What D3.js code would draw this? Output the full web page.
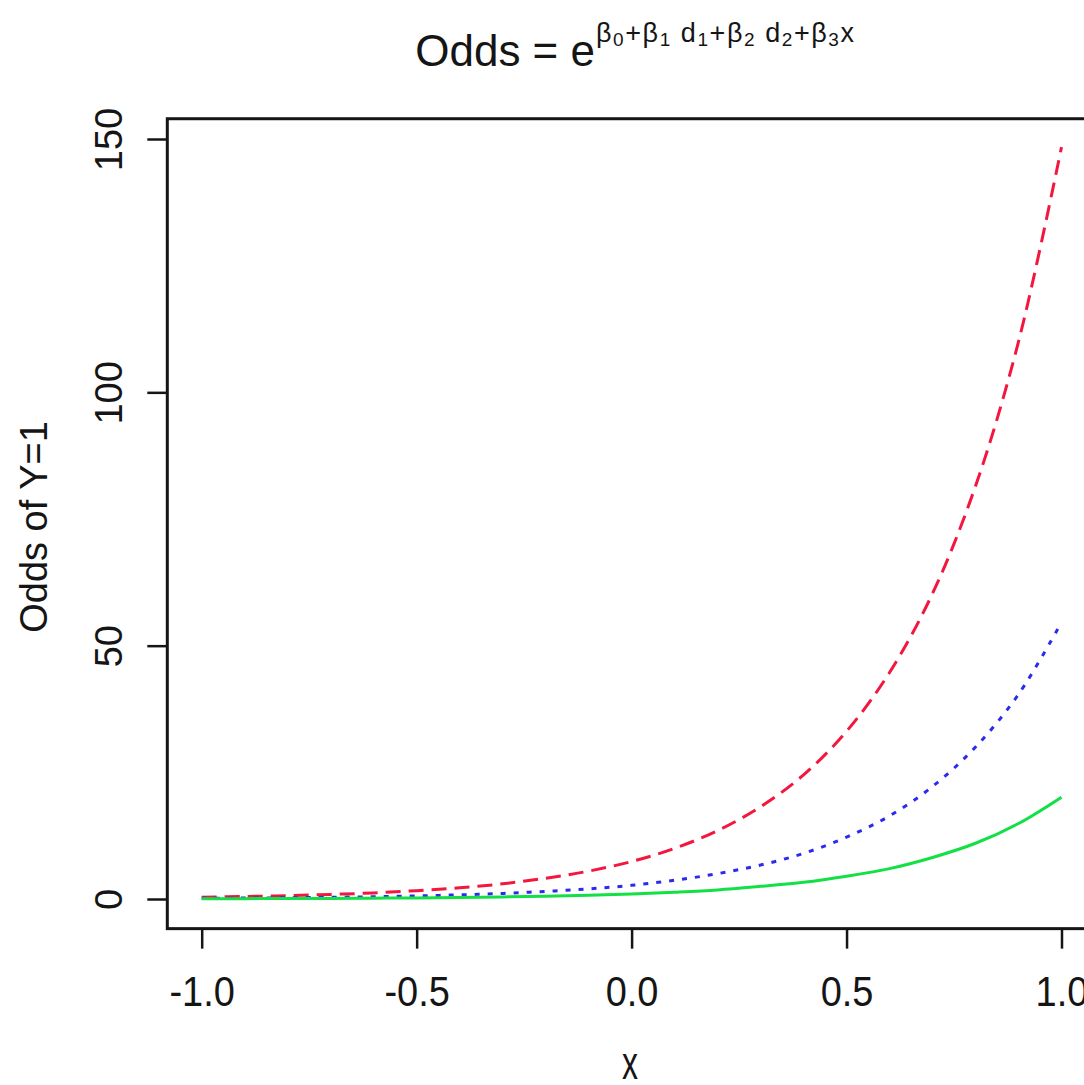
<!DOCTYPE html>
<html>
<head>
<meta charset="utf-8">
<script src="https://cdn.jsdelivr.net/npm/d3@7"></script>
<style>
  html, body { margin: 0; background: #fff; }
  svg { display: block; font-family: "Liberation Sans", Arial, sans-serif; }
</style>
</head>
<body>
<svg id="chart" width="1084" height="1085"></svg>
<script>
// x grid the curves were read at
const xs = [-1.0, -0.9, -0.8, -0.7, -0.6, -0.5, -0.4, -0.3, -0.2, -0.1, 0.0,
             0.1, 0.2, 0.3, 0.4, 0.5, 0.6, 0.7, 0.8, 0.9, 1.0];
// odds
const redOdds   = [0.37, 0.50, 0.67, 0.91, 1.2, 1.65, 2.2, 3.0, 4.1, 5.5, 7.4,
                   10.0, 13.5, 18.2, 24.5, 33.1, 44.7, 60.3, 81.5, 110, 148.4];
const blueOdds  = [0.14, 0.18, 0.25, 0.33, 0.45, 0.61, 0.82, 1.1, 1.5, 2.0, 2.7,
                   3.7, 5.0, 6.7, 9.0, 12.2, 16.4, 22.2, 30.0, 40.4, 54.6];
const greenOdds = [0.05, 0.07, 0.09, 0.12, 0.17, 0.22, 0.30, 0.41, 0.55, 0.74, 1.0,
                   1.35, 1.8, 2.5, 3.3, 4.5, 6.0, 8.2, 11.0, 14.9, 20.1];
const xTicks = [-1.0, -0.5, 0.0, 0.5, 1.0];
const xTickLabels = ['-1.0', '-0.5', '0.0', '0.5', '1.0'];
const yTicks = [0, 50, 100, 150];
const yTickLabels = ['0', '50', '100', '150'];
const exponent = [['β'], ['0', 1], ['+'], ['β'], ['1', 1], [' d'], ['1', 1], ['+'],
                  ['β'], ['2', 1], [' d'], ['2', 1], ['+'], ['β'], ['3', 1], ['x']];

(function drawChart() {
  const svg = d3.select('#chart');
  const ink = '#151515';

  const x = d3.scaleLinear().domain([-1, 1]).range([201.7, 1061.5]);
  const y = d3.scaleLinear().domain([0, 150]).range([899, 139]);
  const usrX = [-1.08, 1.08], usrY = [-5.85, 154];

  // curves: red dashed, blue dotted, green solid
  const line = d3.line().x((d, i) => x(xs[i])).y(d => y(d)).curve(d3.curveCatmullRom);
  const series = [
    { v: redOdds, color: '#f3163f', dash: '15,8' },
    { v: blueOdds, color: '#2b2bef', dash: '5,8' },
    { v: greenOdds, color: '#12e045', dash: null }
  ];
  svg.append('g').selectAll('path').data(series).enter().append('path')
    .attr('d', d => line(d.v)).attr('fill', 'none')
    .attr('stroke', d => d.color).attr('stroke-width', 3)
    .attr('stroke-dasharray', d => d.dash);

  // box
  svg.append('rect')
    .attr('x', x(usrX[0])).attr('y', y(usrY[1]))
    .attr('width', x(usrX[1]) - x(usrX[0])).attr('height', y(usrY[0]) - y(usrY[1]))
    .attr('fill', 'none').attr('stroke', ink).attr('stroke-width', 3);

  // axes
  const xAxis = svg.append('g').attr('transform', `translate(0,${y(usrY[0])})`)
    .call(d3.axisBottom(x).tickValues(xTicks).tickFormat((d, i) => xTickLabels[i]).tickSize(20));
  const yAxis = svg.append('g').attr('transform', `translate(${x(usrX[0])},0)`)
    .call(d3.axisLeft(y).tickValues(yTicks).tickFormat((d, i) => yTickLabels[i]).tickSize(20));
  [xAxis, yAxis].forEach(g => {
    g.select('.domain').remove();
    g.selectAll('.tick line').attr('stroke', ink).attr('stroke-width', 2.5);
    g.selectAll('.tick text').attr('fill', ink).attr('font-size', 38)
      .attr('font-family', '"Liberation Sans", Arial, sans-serif')
      .attr('x', 0).attr('y', 0).attr('dy', 0).attr('text-anchor', 'middle');
  });
  xAxis.selectAll('.tick text').attr('transform', 'translate(0,77) scale(1,1.1)');
  yAxis.selectAll('.tick text').attr('transform', 'translate(-45,0) rotate(-90)');

  // axis titles
  svg.append('text').attr('transform', 'translate(47,527) rotate(-90)')
    .attr('text-anchor', 'middle').attr('font-size', 38).attr('fill', ink).text('Odds of Y=1');
  svg.append('text').attr('transform', 'translate(630,1079) scale(0.8,1.15)')
    .attr('text-anchor', 'middle').attr('font-size', 40).attr('fill', ink).text('x');

  // title with exponent
  svg.append('text').attr('x', 595).attr('y', 66).attr('text-anchor', 'end')
    .attr('font-size', 44).attr('fill', ink).text('Odds = e');
  const sup = svg.append('text').attr('x', 596).attr('y', 42)
    .attr('font-size', 27).attr('fill', ink)
    .attr('textLength', 258).attr('lengthAdjust', 'spacing');
  let lowered = false;
  exponent.forEach(([t, sub]) => {
    const isSub = !!sub;
    sup.append('tspan')
      .attr('font-size', isSub ? 19 : 27)
      .attr('dy', isSub === lowered ? 0 : (isSub ? 4 : -4))
      .text(t);
    lowered = isSub;
  });
})();
</script>
</body>
</html>
